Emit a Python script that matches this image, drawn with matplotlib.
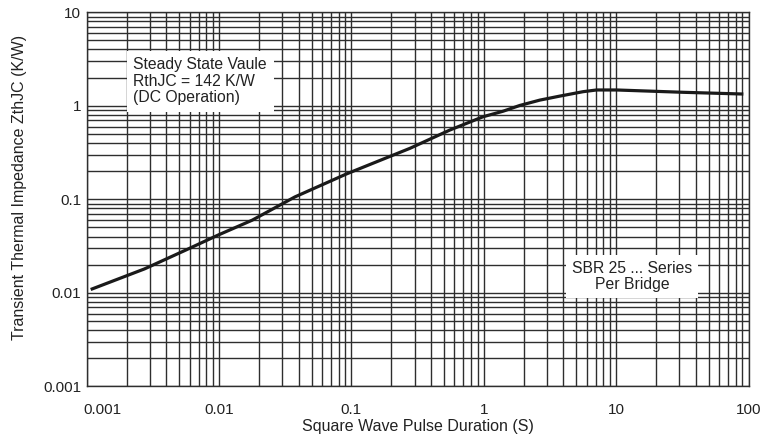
import numpy as np
import matplotlib
matplotlib.use("Agg")
import matplotlib.pyplot as plt
import matplotlib.transforms as mtransforms
from matplotlib.ticker import FixedLocator, LogLocator, FuncFormatter, NullFormatter

# values (pulse duration in s, Zth in K/W)
pulse_s = [0.0011, 0.00273, 0.00562, 0.00986, 0.0178, 0.0374, 0.092, 0.277,
           0.555, 0.989, 1.40, 1.87, 2.65, 3.76, 5.64, 7.11, 10.07, 32.1, 88.9]
zth = [0.0110, 0.0180, 0.0287, 0.0415, 0.0598, 0.106, 0.187, 0.351,
       0.551, 0.764, 0.875, 1.008, 1.15, 1.27, 1.416, 1.476, 1.476, 1.394, 1.337]

x_ticks = [0.001, 0.01, 0.1, 1, 10, 100]
y_ticks = [0.001, 0.01, 0.1, 1, 10]

box_note = "Steady State Vaule\nRthJC = 142 K/W\n(DC Operation)"
box_series = "SBR 25 ... Series\nPer Bridge"

plt.rcParams["font.family"] = ["Liberation Sans", "DejaVu Sans"]

fig = plt.figure(figsize=(7.7, 4.37), dpi=100)
ax = fig.add_axes([0.1126, 0.1160, 0.8595, 0.8559])

ax.plot(pulse_s, zth, color="#1a1a1a", lw=2.3, zorder=4)

ax.set_xscale("log")
ax.set_yscale("log")
ax.set_xlim(1e-3, 100)
ax.set_ylim(1e-3, 10)

fmt = FuncFormatter(lambda v, p: f"{v:g}")
ax.xaxis.set_major_locator(FixedLocator(x_ticks))
ax.yaxis.set_major_locator(FixedLocator(y_ticks))
ax.xaxis.set_minor_locator(LogLocator(base=10, subs=np.arange(2, 10), numticks=100))
ax.yaxis.set_minor_locator(LogLocator(base=10, subs=np.arange(2, 10), numticks=100))
ax.xaxis.set_major_formatter(fmt)
ax.yaxis.set_major_formatter(fmt)
ax.xaxis.set_minor_formatter(NullFormatter())
ax.yaxis.set_minor_formatter(NullFormatter())

# grid everywhere, like the printed chart paper
ax.grid(True, which="both", color="#2e2e2e", lw=1.0)
for s in ax.spines.values():
    s.set_color("#2e2e2e")
    s.set_linewidth(1.0)

ax.tick_params(which="both", length=0, labelsize=11, colors="#222222")
ax.tick_params(axis="x", pad=12)
ax.tick_params(axis="y", pad=4)

# first x label sits a bit to the right in the original
first = ax.xaxis.get_major_ticks()[0].label1
first.set_transform(first.get_transform()
                    + mtransforms.ScaledTranslation(0.16, 0, fig.dpi_scale_trans))

ax.set_xlabel("Square Wave Pulse Duration (S)", fontsize=11.5, color="#222222")
ax.xaxis.set_label_coords(0.5, -0.088)
ax.set_ylabel("Transient Thermal Impedance ZthJC (K/W)", fontsize=11.5, color="#222222")
ax.yaxis.set_label_coords(-0.090, 0.533)

ax.text(0.0704, 0.816, box_note, transform=ax.transAxes, fontsize=11.3,
        ha="left", va="center", linespacing=1.12, color="#222222", zorder=5,
        bbox=dict(boxstyle="square,pad=0.42", fc="white", ec="none"))
ax.text(0.824, 0.2936, box_series, transform=ax.transAxes, fontsize=11.3,
        ha="center", va="center", linespacing=1.05, color="#222222", zorder=5,
        bbox=dict(boxstyle="square,pad=0.4", fc="white", ec="none"))

fig.savefig("out.png", dpi=100)
